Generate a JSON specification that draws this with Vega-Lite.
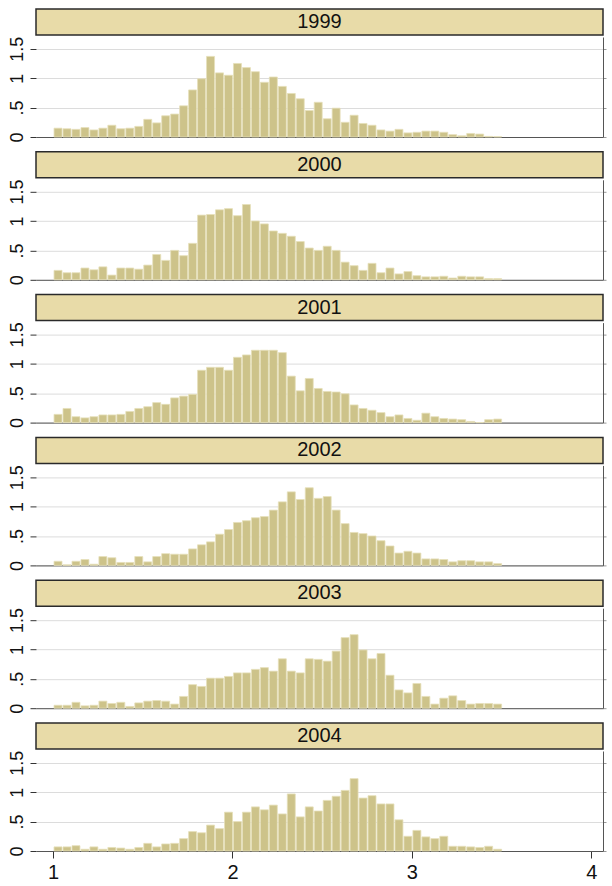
{
"$schema": "https://vega.github.io/schema/vega-lite/v6.json",
"background": "white",
"padding": {"left": 7, "top": 8, "right": 0, "bottom": 0},
"autosize": {"type": "pad"},
"spacing": 7.8,
"config": {"font": "Liberation Sans Narrow, Liberation Sans, Arial", "view": {"stroke": null}},
"datasets": {"h": [
{"year":"1999","lo":1.00,"hi":1.05,"density":0.15},{"year":"1999","lo":1.05,"hi":1.10,"density":0.14},{"year":"1999","lo":1.10,"hi":1.15,"density":0.13},{"year":"1999","lo":1.15,"hi":1.20,"density":0.16},{"year":"1999","lo":1.20,"hi":1.25,"density":0.12},{"year":"1999","lo":1.25,"hi":1.30,"density":0.15},{"year":"1999","lo":1.30,"hi":1.35,"density":0.20},{"year":"1999","lo":1.35,"hi":1.40,"density":0.14},{"year":"1999","lo":1.40,"hi":1.45,"density":0.15},{"year":"1999","lo":1.45,"hi":1.50,"density":0.18},
{"year":"1999","lo":1.50,"hi":1.55,"density":0.30},{"year":"1999","lo":1.55,"hi":1.60,"density":0.24},{"year":"1999","lo":1.60,"hi":1.65,"density":0.36},{"year":"1999","lo":1.65,"hi":1.70,"density":0.39},{"year":"1999","lo":1.70,"hi":1.75,"density":0.53},{"year":"1999","lo":1.75,"hi":1.80,"density":0.80},{"year":"1999","lo":1.80,"hi":1.85,"density":0.99},{"year":"1999","lo":1.85,"hi":1.90,"density":1.37},{"year":"1999","lo":1.90,"hi":1.95,"density":1.09},{"year":"1999","lo":1.95,"hi":2.00,"density":1.05},
{"year":"1999","lo":2.00,"hi":2.05,"density":1.25},{"year":"1999","lo":2.05,"hi":2.10,"density":1.18},{"year":"1999","lo":2.10,"hi":2.15,"density":1.11},{"year":"1999","lo":2.15,"hi":2.20,"density":0.93},{"year":"1999","lo":2.20,"hi":2.25,"density":1.02},{"year":"1999","lo":2.25,"hi":2.30,"density":0.86},{"year":"1999","lo":2.30,"hi":2.35,"density":0.74},{"year":"1999","lo":2.35,"hi":2.40,"density":0.65},{"year":"1999","lo":2.40,"hi":2.45,"density":0.45},{"year":"1999","lo":2.45,"hi":2.50,"density":0.59},
{"year":"1999","lo":2.50,"hi":2.55,"density":0.31},{"year":"1999","lo":2.55,"hi":2.60,"density":0.49},{"year":"1999","lo":2.60,"hi":2.65,"density":0.25},{"year":"1999","lo":2.65,"hi":2.70,"density":0.37},{"year":"1999","lo":2.70,"hi":2.75,"density":0.23},{"year":"1999","lo":2.75,"hi":2.80,"density":0.20},{"year":"1999","lo":2.80,"hi":2.85,"density":0.12},{"year":"1999","lo":2.85,"hi":2.90,"density":0.10},{"year":"1999","lo":2.90,"hi":2.95,"density":0.13},{"year":"1999","lo":2.95,"hi":3.00,"density":0.07},
{"year":"1999","lo":3.00,"hi":3.05,"density":0.08},{"year":"1999","lo":3.05,"hi":3.10,"density":0.10},{"year":"1999","lo":3.10,"hi":3.15,"density":0.10},{"year":"1999","lo":3.15,"hi":3.20,"density":0.08},{"year":"1999","lo":3.20,"hi":3.25,"density":0.04},{"year":"1999","lo":3.25,"hi":3.30,"density":0.02},{"year":"1999","lo":3.30,"hi":3.35,"density":0.06},{"year":"1999","lo":3.35,"hi":3.40,"density":0.05},{"year":"1999","lo":3.40,"hi":3.45,"density":0.01},{"year":"1999","lo":3.45,"hi":3.50,"density":0.005},
{"year":"2000","lo":1.00,"hi":1.05,"density":0.16},{"year":"2000","lo":1.05,"hi":1.10,"density":0.12},{"year":"2000","lo":1.10,"hi":1.15,"density":0.12},{"year":"2000","lo":1.15,"hi":1.20,"density":0.20},{"year":"2000","lo":1.20,"hi":1.25,"density":0.17},{"year":"2000","lo":1.25,"hi":1.30,"density":0.22},{"year":"2000","lo":1.30,"hi":1.35,"density":0.08},{"year":"2000","lo":1.35,"hi":1.40,"density":0.20},{"year":"2000","lo":1.40,"hi":1.45,"density":0.20},{"year":"2000","lo":1.45,"hi":1.50,"density":0.18},
{"year":"2000","lo":1.50,"hi":1.55,"density":0.25},{"year":"2000","lo":1.55,"hi":1.60,"density":0.43},{"year":"2000","lo":1.60,"hi":1.65,"density":0.33},{"year":"2000","lo":1.65,"hi":1.70,"density":0.50},{"year":"2000","lo":1.70,"hi":1.75,"density":0.41},{"year":"2000","lo":1.75,"hi":1.80,"density":0.62},{"year":"2000","lo":1.80,"hi":1.85,"density":1.10},{"year":"2000","lo":1.85,"hi":1.90,"density":1.11},{"year":"2000","lo":1.90,"hi":1.95,"density":1.19},{"year":"2000","lo":1.95,"hi":2.00,"density":1.21},
{"year":"2000","lo":2.00,"hi":2.05,"density":1.09},{"year":"2000","lo":2.05,"hi":2.10,"density":1.28},{"year":"2000","lo":2.10,"hi":2.15,"density":1.00},{"year":"2000","lo":2.15,"hi":2.20,"density":0.95},{"year":"2000","lo":2.20,"hi":2.25,"density":0.83},{"year":"2000","lo":2.25,"hi":2.30,"density":0.79},{"year":"2000","lo":2.30,"hi":2.35,"density":0.74},{"year":"2000","lo":2.35,"hi":2.40,"density":0.65},{"year":"2000","lo":2.40,"hi":2.45,"density":0.54},{"year":"2000","lo":2.45,"hi":2.50,"density":0.50},
{"year":"2000","lo":2.50,"hi":2.55,"density":0.57},{"year":"2000","lo":2.55,"hi":2.60,"density":0.50},{"year":"2000","lo":2.60,"hi":2.65,"density":0.30},{"year":"2000","lo":2.65,"hi":2.70,"density":0.24},{"year":"2000","lo":2.70,"hi":2.75,"density":0.16},{"year":"2000","lo":2.75,"hi":2.80,"density":0.28},{"year":"2000","lo":2.80,"hi":2.85,"density":0.12},{"year":"2000","lo":2.85,"hi":2.90,"density":0.20},{"year":"2000","lo":2.90,"hi":2.95,"density":0.10},{"year":"2000","lo":2.95,"hi":3.00,"density":0.14},
{"year":"2000","lo":3.00,"hi":3.05,"density":0.07},{"year":"2000","lo":3.05,"hi":3.10,"density":0.05},{"year":"2000","lo":3.10,"hi":3.15,"density":0.05},{"year":"2000","lo":3.15,"hi":3.20,"density":0.06},{"year":"2000","lo":3.20,"hi":3.25,"density":0.03},{"year":"2000","lo":3.25,"hi":3.30,"density":0.06},{"year":"2000","lo":3.30,"hi":3.35,"density":0.05},{"year":"2000","lo":3.35,"hi":3.40,"density":0.05},{"year":"2000","lo":3.40,"hi":3.45,"density":0.02},{"year":"2000","lo":3.45,"hi":3.50,"density":0.02},
{"year":"2001","lo":1.00,"hi":1.05,"density":0.14},{"year":"2001","lo":1.05,"hi":1.10,"density":0.24},{"year":"2001","lo":1.10,"hi":1.15,"density":0.10},{"year":"2001","lo":1.15,"hi":1.20,"density":0.08},{"year":"2001","lo":1.20,"hi":1.25,"density":0.10},{"year":"2001","lo":1.25,"hi":1.30,"density":0.13},{"year":"2001","lo":1.30,"hi":1.35,"density":0.13},{"year":"2001","lo":1.35,"hi":1.40,"density":0.14},{"year":"2001","lo":1.40,"hi":1.45,"density":0.19},{"year":"2001","lo":1.45,"hi":1.50,"density":0.24},
{"year":"2001","lo":1.50,"hi":1.55,"density":0.27},{"year":"2001","lo":1.55,"hi":1.60,"density":0.34},{"year":"2001","lo":1.60,"hi":1.65,"density":0.31},{"year":"2001","lo":1.65,"hi":1.70,"density":0.42},{"year":"2001","lo":1.70,"hi":1.75,"density":0.45},{"year":"2001","lo":1.75,"hi":1.80,"density":0.48},{"year":"2001","lo":1.80,"hi":1.85,"density":0.89},{"year":"2001","lo":1.85,"hi":1.90,"density":0.94},{"year":"2001","lo":1.90,"hi":1.95,"density":0.94},{"year":"2001","lo":1.95,"hi":2.00,"density":0.89},
{"year":"2001","lo":2.00,"hi":2.05,"density":1.11},{"year":"2001","lo":2.05,"hi":2.10,"density":1.15},{"year":"2001","lo":2.10,"hi":2.15,"density":1.23},{"year":"2001","lo":2.15,"hi":2.20,"density":1.23},{"year":"2001","lo":2.20,"hi":2.25,"density":1.23},{"year":"2001","lo":2.25,"hi":2.30,"density":1.19},{"year":"2001","lo":2.30,"hi":2.35,"density":0.79},{"year":"2001","lo":2.35,"hi":2.40,"density":0.54},{"year":"2001","lo":2.40,"hi":2.45,"density":0.75},{"year":"2001","lo":2.45,"hi":2.50,"density":0.58},
{"year":"2001","lo":2.50,"hi":2.55,"density":0.53},{"year":"2001","lo":2.55,"hi":2.60,"density":0.52},{"year":"2001","lo":2.60,"hi":2.65,"density":0.49},{"year":"2001","lo":2.65,"hi":2.70,"density":0.30},{"year":"2001","lo":2.70,"hi":2.75,"density":0.24},{"year":"2001","lo":2.75,"hi":2.80,"density":0.21},{"year":"2001","lo":2.80,"hi":2.85,"density":0.17},{"year":"2001","lo":2.85,"hi":2.90,"density":0.10},{"year":"2001","lo":2.90,"hi":2.95,"density":0.13},{"year":"2001","lo":2.95,"hi":3.00,"density":0.07},
{"year":"2001","lo":3.00,"hi":3.05,"density":0.04},{"year":"2001","lo":3.05,"hi":3.10,"density":0.16},{"year":"2001","lo":3.10,"hi":3.15,"density":0.10},{"year":"2001","lo":3.15,"hi":3.20,"density":0.07},{"year":"2001","lo":3.20,"hi":3.25,"density":0.06},{"year":"2001","lo":3.25,"hi":3.30,"density":0.05},{"year":"2001","lo":3.30,"hi":3.35,"density":0.02},{"year":"2001","lo":3.35,"hi":3.40,"density":0.0},{"year":"2001","lo":3.40,"hi":3.45,"density":0.05},{"year":"2001","lo":3.45,"hi":3.50,"density":0.06},
{"year":"2002","lo":1.00,"hi":1.05,"density":0.07},{"year":"2002","lo":1.05,"hi":1.10,"density":0.01},{"year":"2002","lo":1.10,"hi":1.15,"density":0.07},{"year":"2002","lo":1.15,"hi":1.20,"density":0.10},{"year":"2002","lo":1.20,"hi":1.25,"density":0.02},{"year":"2002","lo":1.25,"hi":1.30,"density":0.15},{"year":"2002","lo":1.30,"hi":1.35,"density":0.13},{"year":"2002","lo":1.35,"hi":1.40,"density":0.05},{"year":"2002","lo":1.40,"hi":1.45,"density":0.05},{"year":"2002","lo":1.45,"hi":1.50,"density":0.15},
{"year":"2002","lo":1.50,"hi":1.55,"density":0.06},{"year":"2002","lo":1.55,"hi":1.60,"density":0.15},{"year":"2002","lo":1.60,"hi":1.65,"density":0.20},{"year":"2002","lo":1.65,"hi":1.70,"density":0.19},{"year":"2002","lo":1.70,"hi":1.75,"density":0.19},{"year":"2002","lo":1.75,"hi":1.80,"density":0.28},{"year":"2002","lo":1.80,"hi":1.85,"density":0.35},{"year":"2002","lo":1.85,"hi":1.90,"density":0.40},{"year":"2002","lo":1.90,"hi":1.95,"density":0.53},{"year":"2002","lo":1.95,"hi":2.00,"density":0.61},
{"year":"2002","lo":2.00,"hi":2.05,"density":0.73},{"year":"2002","lo":2.05,"hi":2.10,"density":0.76},{"year":"2002","lo":2.10,"hi":2.15,"density":0.81},{"year":"2002","lo":2.15,"hi":2.20,"density":0.83},{"year":"2002","lo":2.20,"hi":2.25,"density":0.94},{"year":"2002","lo":2.25,"hi":2.30,"density":1.08},{"year":"2002","lo":2.30,"hi":2.35,"density":1.25},{"year":"2002","lo":2.35,"hi":2.40,"density":1.12},{"year":"2002","lo":2.40,"hi":2.45,"density":1.32},{"year":"2002","lo":2.45,"hi":2.50,"density":1.14},
{"year":"2002","lo":2.50,"hi":2.55,"density":1.17},{"year":"2002","lo":2.55,"hi":2.60,"density":0.94},{"year":"2002","lo":2.60,"hi":2.65,"density":0.71},{"year":"2002","lo":2.65,"hi":2.70,"density":0.56},{"year":"2002","lo":2.70,"hi":2.75,"density":0.54},{"year":"2002","lo":2.75,"hi":2.80,"density":0.50},{"year":"2002","lo":2.80,"hi":2.85,"density":0.42},{"year":"2002","lo":2.85,"hi":2.90,"density":0.33},{"year":"2002","lo":2.90,"hi":2.95,"density":0.21},{"year":"2002","lo":2.95,"hi":3.00,"density":0.24},
{"year":"2002","lo":3.00,"hi":3.05,"density":0.21},{"year":"2002","lo":3.05,"hi":3.10,"density":0.11},{"year":"2002","lo":3.10,"hi":3.15,"density":0.11},{"year":"2002","lo":3.15,"hi":3.20,"density":0.10},{"year":"2002","lo":3.20,"hi":3.25,"density":0.06},{"year":"2002","lo":3.25,"hi":3.30,"density":0.08},{"year":"2002","lo":3.30,"hi":3.35,"density":0.08},{"year":"2002","lo":3.35,"hi":3.40,"density":0.06},{"year":"2002","lo":3.40,"hi":3.45,"density":0.06},{"year":"2002","lo":3.45,"hi":3.50,"density":0.03},
{"year":"2003","lo":1.00,"hi":1.05,"density":0.05},{"year":"2003","lo":1.05,"hi":1.10,"density":0.05},{"year":"2003","lo":1.10,"hi":1.15,"density":0.10},{"year":"2003","lo":1.15,"hi":1.20,"density":0.04},{"year":"2003","lo":1.20,"hi":1.25,"density":0.05},{"year":"2003","lo":1.25,"hi":1.30,"density":0.12},{"year":"2003","lo":1.30,"hi":1.35,"density":0.08},{"year":"2003","lo":1.35,"hi":1.40,"density":0.10},{"year":"2003","lo":1.40,"hi":1.45,"density":0.03},{"year":"2003","lo":1.45,"hi":1.50,"density":0.09},
{"year":"2003","lo":1.50,"hi":1.55,"density":0.12},{"year":"2003","lo":1.55,"hi":1.60,"density":0.13},{"year":"2003","lo":1.60,"hi":1.65,"density":0.12},{"year":"2003","lo":1.65,"hi":1.70,"density":0.07},{"year":"2003","lo":1.70,"hi":1.75,"density":0.20},{"year":"2003","lo":1.75,"hi":1.80,"density":0.40},{"year":"2003","lo":1.80,"hi":1.85,"density":0.37},{"year":"2003","lo":1.85,"hi":1.90,"density":0.51},{"year":"2003","lo":1.90,"hi":1.95,"density":0.51},{"year":"2003","lo":1.95,"hi":2.00,"density":0.54},
{"year":"2003","lo":2.00,"hi":2.05,"density":0.60},{"year":"2003","lo":2.05,"hi":2.10,"density":0.60},{"year":"2003","lo":2.10,"hi":2.15,"density":0.66},{"year":"2003","lo":2.15,"hi":2.20,"density":0.69},{"year":"2003","lo":2.20,"hi":2.25,"density":0.63},{"year":"2003","lo":2.25,"hi":2.30,"density":0.84},{"year":"2003","lo":2.30,"hi":2.35,"density":0.63},{"year":"2003","lo":2.35,"hi":2.40,"density":0.60},{"year":"2003","lo":2.40,"hi":2.45,"density":0.84},{"year":"2003","lo":2.45,"hi":2.50,"density":0.83},
{"year":"2003","lo":2.50,"hi":2.55,"density":0.80},{"year":"2003","lo":2.55,"hi":2.60,"density":0.97},{"year":"2003","lo":2.60,"hi":2.65,"density":1.20},{"year":"2003","lo":2.65,"hi":2.70,"density":1.25},{"year":"2003","lo":2.70,"hi":2.75,"density":0.99},{"year":"2003","lo":2.75,"hi":2.80,"density":0.84},{"year":"2003","lo":2.80,"hi":2.85,"density":0.93},{"year":"2003","lo":2.85,"hi":2.90,"density":0.56},{"year":"2003","lo":2.90,"hi":2.95,"density":0.31},{"year":"2003","lo":2.95,"hi":3.00,"density":0.26},
{"year":"2003","lo":3.00,"hi":3.05,"density":0.42},{"year":"2003","lo":3.05,"hi":3.10,"density":0.20},{"year":"2003","lo":3.10,"hi":3.15,"density":0.07},{"year":"2003","lo":3.15,"hi":3.20,"density":0.17},{"year":"2003","lo":3.20,"hi":3.25,"density":0.21},{"year":"2003","lo":3.25,"hi":3.30,"density":0.13},{"year":"2003","lo":3.30,"hi":3.35,"density":0.07},{"year":"2003","lo":3.35,"hi":3.40,"density":0.08},{"year":"2003","lo":3.40,"hi":3.45,"density":0.08},{"year":"2003","lo":3.45,"hi":3.50,"density":0.07},
{"year":"2004","lo":1.00,"hi":1.05,"density":0.07},{"year":"2004","lo":1.05,"hi":1.10,"density":0.07},{"year":"2004","lo":1.10,"hi":1.15,"density":0.09},{"year":"2004","lo":1.15,"hi":1.20,"density":0.03},{"year":"2004","lo":1.20,"hi":1.25,"density":0.07},{"year":"2004","lo":1.25,"hi":1.30,"density":0.03},{"year":"2004","lo":1.30,"hi":1.35,"density":0.06},{"year":"2004","lo":1.35,"hi":1.40,"density":0.05},{"year":"2004","lo":1.40,"hi":1.45,"density":0.03},{"year":"2004","lo":1.45,"hi":1.50,"density":0.06},
{"year":"2004","lo":1.50,"hi":1.55,"density":0.13},{"year":"2004","lo":1.55,"hi":1.60,"density":0.07},{"year":"2004","lo":1.60,"hi":1.65,"density":0.12},{"year":"2004","lo":1.65,"hi":1.70,"density":0.13},{"year":"2004","lo":1.70,"hi":1.75,"density":0.21},{"year":"2004","lo":1.75,"hi":1.80,"density":0.33},{"year":"2004","lo":1.80,"hi":1.85,"density":0.31},{"year":"2004","lo":1.85,"hi":1.90,"density":0.44},{"year":"2004","lo":1.90,"hi":1.95,"density":0.38},{"year":"2004","lo":1.95,"hi":2.00,"density":0.66},
{"year":"2004","lo":2.00,"hi":2.05,"density":0.50},{"year":"2004","lo":2.05,"hi":2.10,"density":0.66},{"year":"2004","lo":2.10,"hi":2.15,"density":0.75},{"year":"2004","lo":2.15,"hi":2.20,"density":0.70},{"year":"2004","lo":2.20,"hi":2.25,"density":0.78},{"year":"2004","lo":2.25,"hi":2.30,"density":0.63},{"year":"2004","lo":2.30,"hi":2.35,"density":0.97},{"year":"2004","lo":2.35,"hi":2.40,"density":0.58},{"year":"2004","lo":2.40,"hi":2.45,"density":0.75},{"year":"2004","lo":2.45,"hi":2.50,"density":0.68},
{"year":"2004","lo":2.50,"hi":2.55,"density":0.86},{"year":"2004","lo":2.55,"hi":2.60,"density":0.93},{"year":"2004","lo":2.60,"hi":2.65,"density":1.03},{"year":"2004","lo":2.65,"hi":2.70,"density":1.23},{"year":"2004","lo":2.70,"hi":2.75,"density":0.90},{"year":"2004","lo":2.75,"hi":2.80,"density":0.94},{"year":"2004","lo":2.80,"hi":2.85,"density":0.80},{"year":"2004","lo":2.85,"hi":2.90,"density":0.80},{"year":"2004","lo":2.90,"hi":2.95,"density":0.53},{"year":"2004","lo":2.95,"hi":3.00,"density":0.25},
{"year":"2004","lo":3.00,"hi":3.05,"density":0.35},{"year":"2004","lo":3.05,"hi":3.10,"density":0.24},{"year":"2004","lo":3.10,"hi":3.15,"density":0.21},{"year":"2004","lo":3.15,"hi":3.20,"density":0.25},{"year":"2004","lo":3.20,"hi":3.25,"density":0.08},{"year":"2004","lo":3.25,"hi":3.30,"density":0.08},{"year":"2004","lo":3.30,"hi":3.35,"density":0.07},{"year":"2004","lo":3.35,"hi":3.40,"density":0.06},{"year":"2004","lo":3.40,"hi":3.45,"density":0.08},{"year":"2004","lo":3.45,"hi":3.50,"density":0.03}
]},
"vconcat": [
{"spacing": 0, "vconcat": [
 {"width": 567, "height": 26, "data": {"values": [{"label": "1999"}]}, "view": {"fill": "#e8dba8", "stroke": "#2a2a2a", "strokeWidth": 1.5}, "mark": {"type": "text", "fontSize": 20, "color": "#111"}, "encoding": {"text": {"field": "label"}}},
 {"width": 567, "height": 100, "data": {"name": "h"}, "transform": [{"filter": "datum.year == '1999'"}], "resolve": {"axis": {"y": "independent"}},
  "layer": [
   {"mark": {"type": "bar", "fill": "#cdc38a", "stroke": "#e6dfba", "strokeWidth": 0.8}, "encoding": {
     "x": {"field": "lo", "type": "quantitative", "bin": "binned", "scale": {"domain": [0.905, 4.065], "nice": false, "zero": false}, "axis": {"domain": true, "domainColor": "#555", "ticks": false, "labels": false, "grid": false, "title": null, "minExtent": 0, "maxExtent": 0}},
     "x2": {"field": "hi"},
     "y": {"field": "density", "type": "quantitative", "scale": {"domain": [0, 1.7], "nice": false}, "axis": {"orient": "left", "values": [0, 0.5, 1, 1.5], "grid": true, "gridColor": "#dcdcdc", "domain": false, "tickColor": "#333", "tickSize": 6, "labelAngle": -90, "labelFontSize": 18, "labelColor": "#111", "labelPadding": 4, "labelExpr": "datum.value == 0 ? '0' : datum.value == 0.5 ? '.5' : datum.value == 1 ? '1' : '1.5'", "title": null, "minExtent": 29, "maxExtent": 29}}}},
   {"mark": {"type": "bar", "opacity": 0}, "encoding": {
     "x": {"field": "lo", "type": "quantitative", "bin": "binned"}, "x2": {"field": "hi"},
     "y": {"field": "density", "type": "quantitative", "axis": {"orient": "right", "values": [0, 0.5, 1, 1.5], "grid": false, "domain": true, "domainColor": "#555", "ticks": true, "tickColor": "#999", "tickSize": 3, "labels": false, "title": null}}}}
  ]}
]},
{"spacing": 0, "vconcat": [
 {"width": 567, "height": 26, "data": {"values": [{"label": "2000"}]}, "view": {"fill": "#e8dba8", "stroke": "#2a2a2a", "strokeWidth": 1.5}, "mark": {"type": "text", "fontSize": 20, "color": "#111"}, "encoding": {"text": {"field": "label"}}},
 {"width": 567, "height": 100, "data": {"name": "h"}, "transform": [{"filter": "datum.year == '2000'"}], "resolve": {"axis": {"y": "independent"}},
  "layer": [
   {"mark": {"type": "bar", "fill": "#cdc38a", "stroke": "#e6dfba", "strokeWidth": 0.8}, "encoding": {
     "x": {"field": "lo", "type": "quantitative", "bin": "binned", "scale": {"domain": [0.905, 4.065], "nice": false, "zero": false}, "axis": {"domain": true, "domainColor": "#555", "ticks": false, "labels": false, "grid": false, "title": null, "minExtent": 0, "maxExtent": 0}},
     "x2": {"field": "hi"},
     "y": {"field": "density", "type": "quantitative", "scale": {"domain": [0, 1.7], "nice": false}, "axis": {"orient": "left", "values": [0, 0.5, 1, 1.5], "grid": true, "gridColor": "#dcdcdc", "domain": false, "tickColor": "#333", "tickSize": 6, "labelAngle": -90, "labelFontSize": 18, "labelColor": "#111", "labelPadding": 4, "labelExpr": "datum.value == 0 ? '0' : datum.value == 0.5 ? '.5' : datum.value == 1 ? '1' : '1.5'", "title": null, "minExtent": 29, "maxExtent": 29}}}},
   {"mark": {"type": "bar", "opacity": 0}, "encoding": {
     "x": {"field": "lo", "type": "quantitative", "bin": "binned"}, "x2": {"field": "hi"},
     "y": {"field": "density", "type": "quantitative", "axis": {"orient": "right", "values": [0, 0.5, 1, 1.5], "grid": false, "domain": true, "domainColor": "#555", "ticks": true, "tickColor": "#999", "tickSize": 3, "labels": false, "title": null}}}}
  ]}
]},
{"spacing": 0, "vconcat": [
 {"width": 567, "height": 26, "data": {"values": [{"label": "2001"}]}, "view": {"fill": "#e8dba8", "stroke": "#2a2a2a", "strokeWidth": 1.5}, "mark": {"type": "text", "fontSize": 20, "color": "#111"}, "encoding": {"text": {"field": "label"}}},
 {"width": 567, "height": 100, "data": {"name": "h"}, "transform": [{"filter": "datum.year == '2001'"}], "resolve": {"axis": {"y": "independent"}},
  "layer": [
   {"mark": {"type": "bar", "fill": "#cdc38a", "stroke": "#e6dfba", "strokeWidth": 0.8}, "encoding": {
     "x": {"field": "lo", "type": "quantitative", "bin": "binned", "scale": {"domain": [0.905, 4.065], "nice": false, "zero": false}, "axis": {"domain": true, "domainColor": "#555", "ticks": false, "labels": false, "grid": false, "title": null, "minExtent": 0, "maxExtent": 0}},
     "x2": {"field": "hi"},
     "y": {"field": "density", "type": "quantitative", "scale": {"domain": [0, 1.7], "nice": false}, "axis": {"orient": "left", "values": [0, 0.5, 1, 1.5], "grid": true, "gridColor": "#dcdcdc", "domain": false, "tickColor": "#333", "tickSize": 6, "labelAngle": -90, "labelFontSize": 18, "labelColor": "#111", "labelPadding": 4, "labelExpr": "datum.value == 0 ? '0' : datum.value == 0.5 ? '.5' : datum.value == 1 ? '1' : '1.5'", "title": null, "minExtent": 29, "maxExtent": 29}}}},
   {"mark": {"type": "bar", "opacity": 0}, "encoding": {
     "x": {"field": "lo", "type": "quantitative", "bin": "binned"}, "x2": {"field": "hi"},
     "y": {"field": "density", "type": "quantitative", "axis": {"orient": "right", "values": [0, 0.5, 1, 1.5], "grid": false, "domain": true, "domainColor": "#555", "ticks": true, "tickColor": "#999", "tickSize": 3, "labels": false, "title": null}}}}
  ]}
]},
{"spacing": 0, "vconcat": [
 {"width": 567, "height": 26, "data": {"values": [{"label": "2002"}]}, "view": {"fill": "#e8dba8", "stroke": "#2a2a2a", "strokeWidth": 1.5}, "mark": {"type": "text", "fontSize": 20, "color": "#111"}, "encoding": {"text": {"field": "label"}}},
 {"width": 567, "height": 100, "data": {"name": "h"}, "transform": [{"filter": "datum.year == '2002'"}], "resolve": {"axis": {"y": "independent"}},
  "layer": [
   {"mark": {"type": "bar", "fill": "#cdc38a", "stroke": "#e6dfba", "strokeWidth": 0.8}, "encoding": {
     "x": {"field": "lo", "type": "quantitative", "bin": "binned", "scale": {"domain": [0.905, 4.065], "nice": false, "zero": false}, "axis": {"domain": true, "domainColor": "#555", "ticks": false, "labels": false, "grid": false, "title": null, "minExtent": 0, "maxExtent": 0}},
     "x2": {"field": "hi"},
     "y": {"field": "density", "type": "quantitative", "scale": {"domain": [0, 1.7], "nice": false}, "axis": {"orient": "left", "values": [0, 0.5, 1, 1.5], "grid": true, "gridColor": "#dcdcdc", "domain": false, "tickColor": "#333", "tickSize": 6, "labelAngle": -90, "labelFontSize": 18, "labelColor": "#111", "labelPadding": 4, "labelExpr": "datum.value == 0 ? '0' : datum.value == 0.5 ? '.5' : datum.value == 1 ? '1' : '1.5'", "title": null, "minExtent": 29, "maxExtent": 29}}}},
   {"mark": {"type": "bar", "opacity": 0}, "encoding": {
     "x": {"field": "lo", "type": "quantitative", "bin": "binned"}, "x2": {"field": "hi"},
     "y": {"field": "density", "type": "quantitative", "axis": {"orient": "right", "values": [0, 0.5, 1, 1.5], "grid": false, "domain": true, "domainColor": "#555", "ticks": true, "tickColor": "#999", "tickSize": 3, "labels": false, "title": null}}}}
  ]}
]},
{"spacing": 0, "vconcat": [
 {"width": 567, "height": 26, "data": {"values": [{"label": "2003"}]}, "view": {"fill": "#e8dba8", "stroke": "#2a2a2a", "strokeWidth": 1.5}, "mark": {"type": "text", "fontSize": 20, "color": "#111"}, "encoding": {"text": {"field": "label"}}},
 {"width": 567, "height": 100, "data": {"name": "h"}, "transform": [{"filter": "datum.year == '2003'"}], "resolve": {"axis": {"y": "independent"}},
  "layer": [
   {"mark": {"type": "bar", "fill": "#cdc38a", "stroke": "#e6dfba", "strokeWidth": 0.8}, "encoding": {
     "x": {"field": "lo", "type": "quantitative", "bin": "binned", "scale": {"domain": [0.905, 4.065], "nice": false, "zero": false}, "axis": {"domain": true, "domainColor": "#555", "ticks": false, "labels": false, "grid": false, "title": null, "minExtent": 0, "maxExtent": 0}},
     "x2": {"field": "hi"},
     "y": {"field": "density", "type": "quantitative", "scale": {"domain": [0, 1.7], "nice": false}, "axis": {"orient": "left", "values": [0, 0.5, 1, 1.5], "grid": true, "gridColor": "#dcdcdc", "domain": false, "tickColor": "#333", "tickSize": 6, "labelAngle": -90, "labelFontSize": 18, "labelColor": "#111", "labelPadding": 4, "labelExpr": "datum.value == 0 ? '0' : datum.value == 0.5 ? '.5' : datum.value == 1 ? '1' : '1.5'", "title": null, "minExtent": 29, "maxExtent": 29}}}},
   {"mark": {"type": "bar", "opacity": 0}, "encoding": {
     "x": {"field": "lo", "type": "quantitative", "bin": "binned"}, "x2": {"field": "hi"},
     "y": {"field": "density", "type": "quantitative", "axis": {"orient": "right", "values": [0, 0.5, 1, 1.5], "grid": false, "domain": true, "domainColor": "#555", "ticks": true, "tickColor": "#999", "tickSize": 3, "labels": false, "title": null}}}}
  ]}
]},
{"spacing": 0, "vconcat": [
 {"width": 567, "height": 26, "data": {"values": [{"label": "2004"}]}, "view": {"fill": "#e8dba8", "stroke": "#2a2a2a", "strokeWidth": 1.5}, "mark": {"type": "text", "fontSize": 20, "color": "#111"}, "encoding": {"text": {"field": "label"}}},
 {"width": 567, "height": 100, "data": {"name": "h"}, "transform": [{"filter": "datum.year == '2004'"}], "resolve": {"axis": {"y": "independent"}},
  "layer": [
   {"mark": {"type": "bar", "fill": "#cdc38a", "stroke": "#e6dfba", "strokeWidth": 0.8}, "encoding": {
     "x": {"field": "lo", "type": "quantitative", "bin": "binned", "scale": {"domain": [0.905, 4.065], "nice": false, "zero": false}, "axis": {"values": [1, 2, 3, 4], "format": "d", "domain": true, "domainColor": "#555", "ticks": true, "tickColor": "#333", "tickSize": 7, "labelFontSize": 20, "labelColor": "#111", "labelPadding": 4, "grid": false, "title": null}},
     "x2": {"field": "hi"},
     "y": {"field": "density", "type": "quantitative", "scale": {"domain": [0, 1.7], "nice": false}, "axis": {"orient": "left", "values": [0, 0.5, 1, 1.5], "grid": true, "gridColor": "#dcdcdc", "domain": false, "tickColor": "#333", "tickSize": 6, "labelAngle": -90, "labelFontSize": 18, "labelColor": "#111", "labelPadding": 4, "labelExpr": "datum.value == 0 ? '0' : datum.value == 0.5 ? '.5' : datum.value == 1 ? '1' : '1.5'", "title": null, "minExtent": 29, "maxExtent": 29}}}},
   {"mark": {"type": "bar", "opacity": 0}, "encoding": {
     "x": {"field": "lo", "type": "quantitative", "bin": "binned"}, "x2": {"field": "hi"},
     "y": {"field": "density", "type": "quantitative", "axis": {"orient": "right", "values": [0, 0.5, 1, 1.5], "grid": false, "domain": true, "domainColor": "#555", "ticks": true, "tickColor": "#999", "tickSize": 3, "labels": false, "title": null}}}}
  ]}
]}
]
}
